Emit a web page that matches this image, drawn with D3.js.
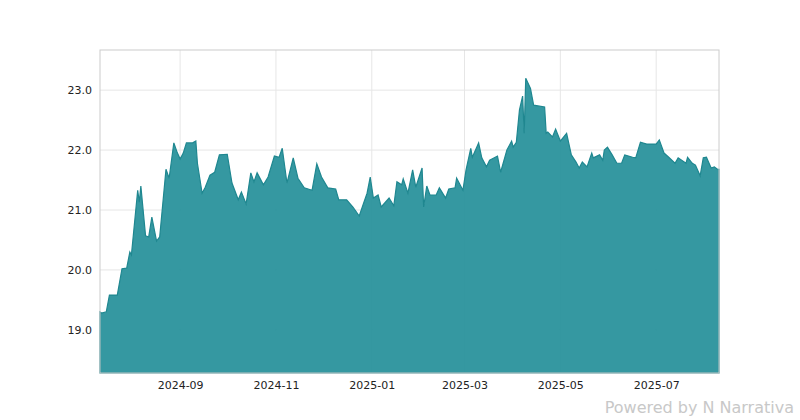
<!DOCTYPE html>
<html>
<head>
<meta charset="utf-8">
<script src="https://cdn.jsdelivr.net/npm/d3@7"></script>
<style>
  body { margin: 0; background: #fff; }
  text { font-family: "DejaVu Sans", sans-serif; }
</style>
</head>
<body>
<script>
const dates = [
  "2024-07-12","2024-07-13","2024-07-16","2024-07-18","2024-07-23","2024-07-26","2024-07-29","2024-07-31","2024-08-01",
  "2024-08-05","2024-08-06","2024-08-07","2024-08-10","2024-08-12","2024-08-14","2024-08-17","2024-08-19","2024-08-23",
  "2024-08-25","2024-08-28","2024-08-30","2024-09-01","2024-09-03","2024-09-05","2024-09-09","2024-09-11","2024-09-12",
  "2024-09-15","2024-09-17","2024-09-20","2024-09-23","2024-09-26","2024-10-01","2024-10-04","2024-10-08","2024-10-10",
  "2024-10-13","2024-10-16","2024-10-18","2024-10-20","2024-10-24","2024-10-27","2024-10-31","2024-11-03","2024-11-05",
  "2024-11-08","2024-11-12","2024-11-15","2024-11-19","2024-11-24","2024-11-27","2024-11-30","2024-12-04","2024-12-09",
  "2024-12-11","2024-12-16","2024-12-20","2024-12-24","2024-12-27","2024-12-29","2024-12-31","2025-01-02","2025-01-05",
  "2025-01-07","2025-01-12","2025-01-15","2025-01-17","2025-01-20","2025-01-21","2025-01-24","2025-01-27","2025-01-29",
  "2025-02-02","2025-02-03","2025-02-05","2025-02-07","2025-02-11","2025-02-13","2025-02-17","2025-02-19","2025-02-23",
  "2025-02-24","2025-02-28","2025-03-02","2025-03-05","2025-03-06","2025-03-10","2025-03-12","2025-03-15","2025-03-17",
  "2025-03-22","2025-03-24","2025-03-28","2025-03-31","2025-04-01","2025-04-03","2025-04-05","2025-04-07","2025-04-08",
  "2025-04-09","2025-04-12","2025-04-14","2025-04-21","2025-04-22","2025-04-23","2025-04-26","2025-04-28","2025-05-01",
  "2025-05-05","2025-05-08","2025-05-11","2025-05-13","2025-05-15","2025-05-18","2025-05-21","2025-05-22","2025-05-26",
  "2025-05-28","2025-05-29","2025-05-31","2025-06-03","2025-06-06","2025-06-09","2025-06-11","2025-06-16","2025-06-18",
  "2025-06-21","2025-06-25","2025-07-01","2025-07-03","2025-07-06","2025-07-09","2025-07-13","2025-07-15","2025-07-20",
  "2025-07-21","2025-07-24","2025-07-26","2025-07-29","2025-07-31","2025-08-02","2025-08-05","2025-08-07","2025-08-09",
  "2025-08-10"
];
const values = [
  19.3,19.28,19.3,19.58,19.58,20.02,20.03,20.3,20.25,
  21.33,21.13,21.4,20.57,20.55,20.88,20.48,20.55,21.68,
  21.53,22.12,21.97,21.85,21.95,22.12,22.12,22.15,21.78,
  21.28,21.38,21.58,21.63,21.92,21.93,21.45,21.17,21.3,
  21.1,21.62,21.47,21.62,21.42,21.55,21.9,21.88,22.03,
  21.45,21.87,21.53,21.37,21.33,21.77,21.55,21.37,21.35,
  21.17,21.17,21.05,20.9,21.13,21.28,21.55,21.2,21.25,
  21.05,21.2,21.07,21.47,21.42,21.52,21.28,21.67,21.38,
  21.7,21.05,21.4,21.25,21.25,21.37,21.2,21.35,21.37,
  21.53,21.33,21.67,22.03,21.88,22.12,21.87,21.72,21.83,
  21.9,21.63,22.0,22.15,22.05,22.13,22.67,22.9,22.28,
  23.2,23.03,22.75,22.72,22.28,22.3,22.22,22.35,22.15,
  22.28,21.92,21.8,21.7,21.8,21.72,21.95,21.87,21.92,
  21.83,22.0,22.05,21.92,21.78,21.78,21.92,21.88,21.87,
  22.13,22.1,22.1,22.17,21.95,21.88,21.78,21.87,21.78,
  21.88,21.78,21.75,21.57,21.87,21.88,21.7,21.72,21.68,
  21.68
];
const yTicks = [19, 20, 21, 22, 23];
const xTicks = ["2024-09-01","2024-11-01","2025-01-01","2025-03-01","2025-05-01","2025-07-01"];

const width = 800, height = 420;
const margin = { top: 50, right: 81, bottom: 47, left: 100 };
const parse = d3.utcParse("%Y-%m-%d");
const data = dates.map((d, i) => ({ date: parse(d), value: values[i] }));

const svg = d3.select("body").append("svg")
  .attr("width", width).attr("height", height);

const x = d3.scaleUtc()
  .domain(d3.extent(data, d => d.date))
  .range([margin.left, width - margin.right]);
const y = d3.scaleLinear()
  .domain([18.28, 23.67])
  .range([height - margin.bottom, margin.top]);

// grid
svg.append("g").selectAll("line").data(yTicks).join("line")
  .attr("x1", margin.left).attr("x2", width - margin.right)
  .attr("y1", d => y(d)).attr("y2", d => y(d))
  .attr("stroke", "#e6e6e6");
svg.append("g").selectAll("line").data(xTicks).join("line")
  .attr("x1", d => x(parse(d))).attr("x2", d => x(parse(d)))
  .attr("y1", margin.top).attr("y2", height - margin.bottom)
  .attr("stroke", "#e6e6e6");

// area
svg.append("path").datum(data)
  .attr("fill", "#2a929c").attr("fill-opacity", 0.95)
  .attr("stroke", "#1f8790").attr("stroke-width", 1.2)
  .attr("d", d3.area()
    .x(d => x(d.date))
    .y0(y.range()[0])
    .y1(d => y(d.value)));

// frame
svg.append("rect")
  .attr("x", margin.left).attr("y", margin.top)
  .attr("width", width - margin.left - margin.right)
  .attr("height", height - margin.top - margin.bottom)
  .attr("fill", "none").attr("stroke", "#cccccc");

// axes
const yAxis = svg.append("g")
  .attr("transform", `translate(${margin.left},0)`)
  .call(d3.axisLeft(y).tickValues(yTicks).tickSize(0).tickPadding(8));
yAxis.select(".domain").remove();
yAxis.selectAll("text").style("font-size", "11px").attr("fill", "#222");

const xAxis = svg.append("g")
  .attr("transform", `translate(0,${height - margin.bottom})`)
  .call(d3.axisBottom(x).tickValues(xTicks.map(parse))
    .tickFormat(d3.utcFormat("%Y-%m")).tickSize(0).tickPadding(8));
xAxis.select(".domain").remove();
xAxis.selectAll("text").style("font-size", "11px").attr("fill", "#222");

// credit
svg.append("text")
  .attr("x", 794).attr("y", 413).attr("text-anchor", "end")
  .style("font-size", "16px").attr("fill", "#c8c8c8")
  .text("Powered by \u2116Narrativa".replace("\u2116", "N "));
</script>
</body>
</html>
